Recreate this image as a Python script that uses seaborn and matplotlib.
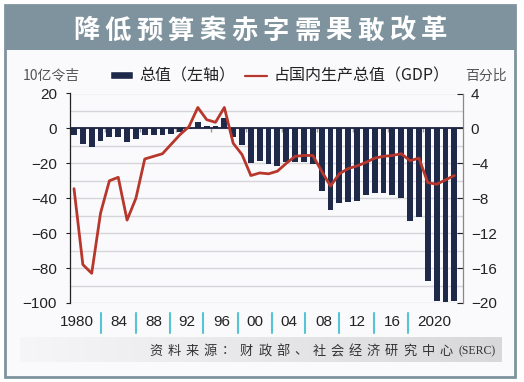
import numpy as np
import pandas as pd
import seaborn as sns
import matplotlib.pyplot as plt
from matplotlib.patches import Rectangle
from matplotlib.lines import Line2D

# data
years = list(range(1980, 2024))
total_bn = [-3.6, -9.1, -10.6, -7.1, -4.8, -4.8, -7.6, -6.3, -3.8, -3.8,
            -3.8, -3.4, -2.2, -0.4, 3.4, 1.3, 1.4, 5.7, -5.1, -9.5,
            -19.7, -18.6, -20.4, -21.3, -19.4, -19.2, -19.2, -20.5, -36.0, -47.0,
            -43.0, -42.2, -41.6, -38.3, -37.1, -37.1, -38.3, -39.6, -53.0, -51.0,
            -87.6, -98.6, -99.5, -98.8]
pct_gdp = [-6.9, -15.6, -16.6, -9.7, -6.0, -5.6, -10.5, -8.0, -3.5, -3.2,
           -2.9, -1.8, -0.7, 0.2, 2.4, 1.0, 0.7, 2.4, -1.7, -3.0,
           -5.4, -5.1, -5.2, -4.9, -4.0, -3.2, -3.1, -3.1, -4.9, -6.6,
           -5.2, -4.6, -4.3, -3.9, -3.4, -3.2, -3.1, -2.9, -3.7, -3.4,
           -6.2, -6.4, -5.9, -5.4]
tick_labels = ["1980", "84", "88", "92", "96", "00", "04", "08", "12", "16", "2020"]

title = "降低预算案赤字需果敢改革"
source = "资料来源：财政部、社会经济研究中心"
bar_label = "总值（左轴）"
line_label = "占国内生产总值（GDP）"

NAVY = "#1f2a4b"
RED = "#b8372c"
SLATE = "#7f939e"
CYAN = "#56c4d3"
BG = "#fafafc"

W, H = 524, 382

df = pd.DataFrame({"year": years, "total": total_bn, "pct": pct_gdp})

sns.set_style("white")
plt.rcParams["font.family"] = ["Liberation Sans", "Noto Sans CJK SC"]
CJK = ["Noto Sans CJK SC", "DejaVu Sans"]

fig = plt.figure(figsize=(W / 100, H / 100), dpi=100)
fig.patch.set_facecolor("white")

# frame + title banner (behind the axes)
fig.patches.append(Rectangle((5 / W, 5 / H), 510 / W, 372 / H, transform=fig.transFigure,
                             facecolor=BG, edgecolor=SLATE, lw=2, zorder=-2))
fig.patches.append(Rectangle((5 / W, 1 - 50 / H), 510 / W, 45 / H, transform=fig.transFigure,
                             facecolor=SLATE, edgecolor="none", zorder=-1))

# title with wide letter spacing
for c, x in zip(title, np.linspace(86, 434, len(title))):
    fig.text(x / W, 1 - 31 / H, c, ha="center", va="center", fontsize=19,
             fontweight="bold", color="white", family=CJK)

ax = fig.add_axes([69.5 / W, 1 - 303 / H, 393 / W, 209.5 / H])
ax.set_facecolor(BG)
sns.barplot(data=df, x="year", y="total", native_scale=True, width=0.66,
            color=NAVY, saturation=1, linewidth=0, ax=ax, zorder=3)
ax.set_xlim(1979.49, 2023.93)
ax.set_ylim(-100, 20)
ax.set_yticks(range(-100, 21, 20))
ax.set_yticks(range(-90, 20, 20), minor=True)
ax.grid(axis="y", which="both", color="#d6d6da", lw=1, zorder=0)
ax.set_axisbelow(True)
ax.axhline(0, color="#1c2440", lw=1.3, zorder=4)
ax.vlines(np.arange(1983.5, 2022, 4), -1.8, 0, color="#9a9a9a", lw=1, zorder=2)
ax.set_xlabel("")
ax.set_ylabel("")
for s in ["top", "right", "bottom"]:
    ax.spines[s].set_visible(False)
ax.spines["left"].set_color("#222")
ax.spines["left"].set_linewidth(0.9)
ax.tick_params(axis="y", which="major", labelsize=11, length=3, width=0.8,
               colors="#222", pad=6)
ax.tick_params(axis="y", which="minor", length=0)

# x label strip with cyan separators
label_pos = [1980.3, 1985.1, 1989.0, 1992.8, 1996.7, 2000.5, 2004.3, 2008.2, 2012.0, 2016.0, 2020.7]
sep_pos = [1983.1, 1987.0, 1990.8, 1994.6, 1998.5, 2002.4, 2006.1, 2010.0, 2013.9, 2017.8]
ax.set_xticks(label_pos, tick_labels)
ax.tick_params(axis="x", length=0, labelsize=11, colors="#222", pad=9)
for s in sep_pos:
    ax.plot([s, s], [-0.048, -0.143], transform=ax.get_xaxis_transform(),
            color=CYAN, lw=1.5, clip_on=False)

ax2 = ax.twinx()
sns.lineplot(data=df, x="year", y="pct", color=RED, lw=2, ax=ax2, zorder=5)
ax2.set_ylim(-20, 4)
ax2.set_yticks(range(-20, 5, 4))
ax2.set_xlim(1979.49, 2023.93)
ax2.set_ylabel("")
ax2.grid(False)
for s in ["top", "left", "bottom"]:
    ax2.spines[s].set_visible(False)
ax2.spines["right"].set_color("#888")
ax2.spines["right"].set_linewidth(0.9)
ax2.tick_params(axis="y", labelsize=11, direction="in", length=4, width=0.8,
                colors="#222", pad=6)

# legend row
handles = [Rectangle((0, 0), 1, 1, facecolor=NAVY), Line2D([0], [0], color=RED, lw=1.6)]
leg = fig.legend(handles, [bar_label, line_label], loc="center left",
                 bbox_to_anchor=(104 / W, 1 - 76 / H), ncol=2, frameon=False,
                 fontsize=11.5, handlelength=1.4, handleheight=0.35,
                 handletextpad=0.4, columnspacing=0.6, borderaxespad=0)
for t in leg.get_texts():
    t.set_family(CJK)
    t.set_color("#222")
fig.text(23 / W, 1 - 76 / H, "10亿令吉", ha="left", va="center", fontsize=10,
         color="#555", family=CJK)
fig.text(507 / W, 1 - 76 / H, "百分比", ha="right", va="center", fontsize=10,
         color="#555", family=CJK)

# source band (gradient) and text
band = fig.add_axes([20 / W, 1 - 362 / H, 482 / W, 25 / H], zorder=0.5)
band.imshow(np.linspace(0, 1, 256)[None, :],
            cmap=sns.blend_palette(["#f6f6f8", "#d8d8db"], as_cmap=True),
            aspect="auto", extent=[0, 1, 0, 1])
band.axis("off")
for c, x in zip(source, np.linspace(156, 446, len(source))):
    fig.text(x / W, 1 - 351 / H, c, ha="center", va="center", fontsize=9.5,
             color="#333", family=CJK)
fig.text(496 / W, 1 - 351 / H, "(SERC)", ha="right", va="center", fontsize=8.5,
         color="#333", family="Liberation Serif")

fig.savefig("out.png", dpi=100)
